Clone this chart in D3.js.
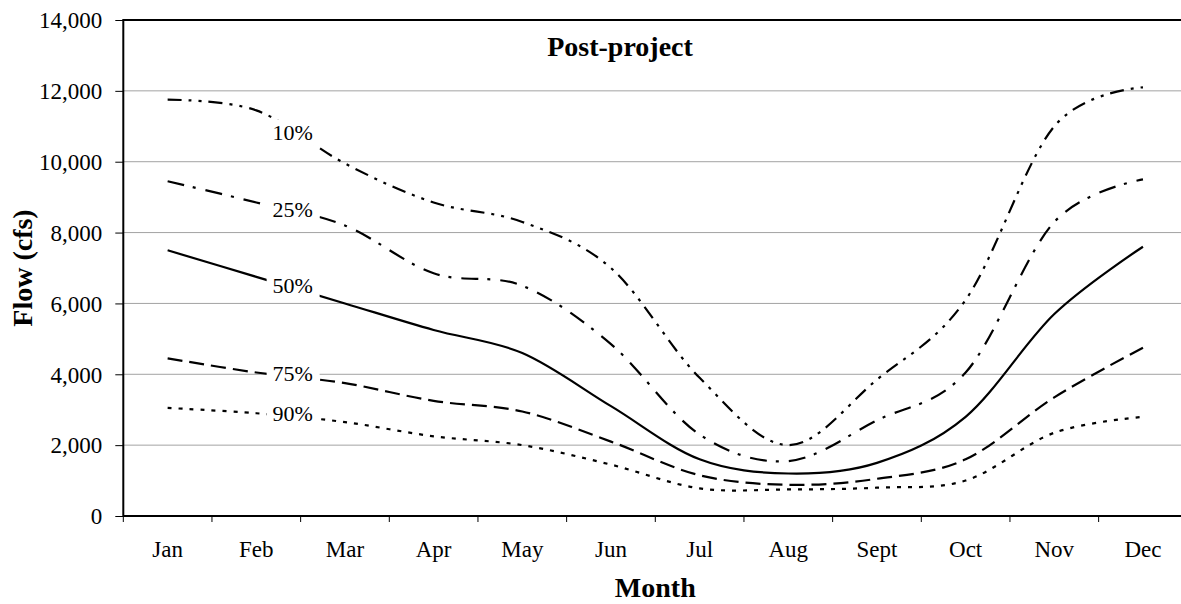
<!DOCTYPE html>
<html>
<head>
<meta charset="utf-8">
<script src="https://cdn.jsdelivr.net/npm/d3@7"></script>
<style>
  html, body { margin: 0; padding: 0; background: #fff; }
  svg { display: block; }
  svg text { font-family: "Liberation Serif", "Times New Roman", serif !important; fill: #000; }
</style>
</head>
<body>
<svg id="chart" width="1181" height="604" font-family="Liberation Serif"></svg>
<script>
// ---- data ----
const months = ["Jan","Feb","Mar","Apr","May","Jun","Jul","Aug","Sept","Oct","Nov","Dec"];
const p10 = [11750, 11450, 9950, 8850, 8300, 7000, 3900, 2000, 3850, 6100, 11000, 12100];
const p25 = [9450, 8850, 8200, 6850, 6500, 4850, 2300, 1550, 2700, 4050, 8300, 9500];
const p50 = [7500, 6750, 6000, 5250, 4600, 3100, 1600, 1200, 1500, 2800, 5700, 7600];
const p75 = [4450, 4050, 3750, 3250, 2950, 2100, 1150, 880, 1050, 1600, 3350, 4750];
const p90 = [3050, 2900, 2650, 2250, 2000, 1450, 780, 750, 800, 1000, 2350, 2800];
const seriesNames = ["10%", "25%", "50%", "75%", "90%"];
const yTicks = [0, 2000, 4000, 6000, 8000, 10000, 12000, 14000];
const titleText = "Post-project";
const xTitle = "Month";
const yTitle = "Flow (cfs)";

// ---- layout / style ----
const pLeft = 123.3, pRight = 1187.3, pTop = 20, pBottom = 516;
const dashes = ["14,7,3,7,3,7", "17,9,3,10", null, "15,7", "4,7"];
const FONT = "Liberation Serif";

const svg = d3.select("#chart");
const x = d3.scaleBand().domain(months).range([pLeft, pRight]).padding(0);
const y = d3.scaleLinear().domain([0, 14000]).range([pBottom, pTop]);
const cx = m => x(m) + x.bandwidth() / 2;

// gridlines
svg.append("g").selectAll("line")
  .data(yTicks.filter(v => v > 0 && v < 14000))
  .join("line")
  .attr("x1", pLeft).attr("x2", pRight)
  .attr("y1", d => y(d)).attr("y2", d => y(d))
  .attr("stroke", "#a3a3a3").attr("stroke-width", 1);

// y axis
const yAxis = svg.append("g")
  .attr("transform", `translate(${pLeft},0)`)
  .call(d3.axisLeft(y).tickValues(yTicks).tickSize(8).tickPadding(13).tickFormat(d3.format(",")));
yAxis.attr("font-family", FONT);
yAxis.select(".domain").remove();
yAxis.selectAll(".tick line").attr("stroke", "#000").attr("stroke-width", 1);
yAxis.selectAll(".tick text").attr("font-size", 23).attr("font-family", FONT).attr("dy", "0.34em");

// x axis labels
const xAxis = svg.append("g")
  .attr("transform", `translate(0,${pBottom})`)
  .call(d3.axisBottom(x).tickSize(0).tickPadding(0));
xAxis.attr("font-family", FONT);
xAxis.select(".domain").remove();
xAxis.selectAll(".tick text").attr("font-size", 23).attr("font-family", FONT)
  .attr("y", 41).attr("dy", 0);

// x tick marks at band boundaries
const bounds = months.map(m => x(m)).concat([x.range()[1]]);
svg.append("g").selectAll("line").data(bounds).join("line")
  .attr("x1", d => d).attr("x2", d => d)
  .attr("y1", pBottom).attr("y2", pBottom + 6)
  .attr("stroke", "#000").attr("stroke-width", 1);

// plot border (top, left, bottom)
svg.append("path")
  .attr("d", `M${pRight},${pTop}H${pLeft}V${pBottom}H${pRight}`)
  .attr("fill", "none").attr("stroke", "#000").attr("stroke-width", 2);

// lines
const allSeries = [p10, p25, p50, p75, p90];
const line = d3.line()
  .x((d, i) => cx(months[i]))
  .y(d => y(d))
  .curve(d3.curveCatmullRom.alpha(0));

svg.append("g").selectAll("path").data(allSeries).join("path")
  .attr("d", d => line(d))
  .attr("fill", "none")
  .attr("stroke", "#000")
  .attr("stroke-width", 2.2)
  .attr("stroke-dasharray", (d, i) => dashes[i]);

// series labels on white boxes at Feb/Mar boundary
const labelX = x("Mar") - 8;
const lab = svg.append("g").selectAll("g").data(allSeries).join("g")
  .attr("transform", d => `translate(${labelX},${y((d[1] + d[2]) / 2)})`);
lab.append("rect")
  .attr("x", -26).attr("y", -17).attr("width", 53).attr("height", 26)
  .attr("fill", "#fff");
lab.append("text")
  .attr("text-anchor", "middle")
  .attr("y", 3)
  .attr("font-family", FONT)
  .attr("font-size", 22)
  .text((d, i) => seriesNames[i]);

// title
svg.append("text")
  .attr("x", 620).attr("y", 56)
  .attr("text-anchor", "middle")
  .attr("font-family", FONT)
  .attr("font-size", 28).attr("font-weight", "bold")
  .text(titleText);

// axis titles
svg.append("text")
  .attr("x", (pLeft + pRight) / 2).attr("y", 597)
  .attr("text-anchor", "middle")
  .attr("font-family", FONT)
  .attr("font-size", 28).attr("font-weight", "bold")
  .text(xTitle);

svg.append("text")
  .attr("transform", `translate(32,${(pTop + pBottom) / 2}) rotate(-90)`)
  .attr("text-anchor", "middle")
  .attr("font-family", FONT)
  .attr("font-size", 28).attr("font-weight", "bold")
  .text(yTitle);
</script>
</body>
</html>
